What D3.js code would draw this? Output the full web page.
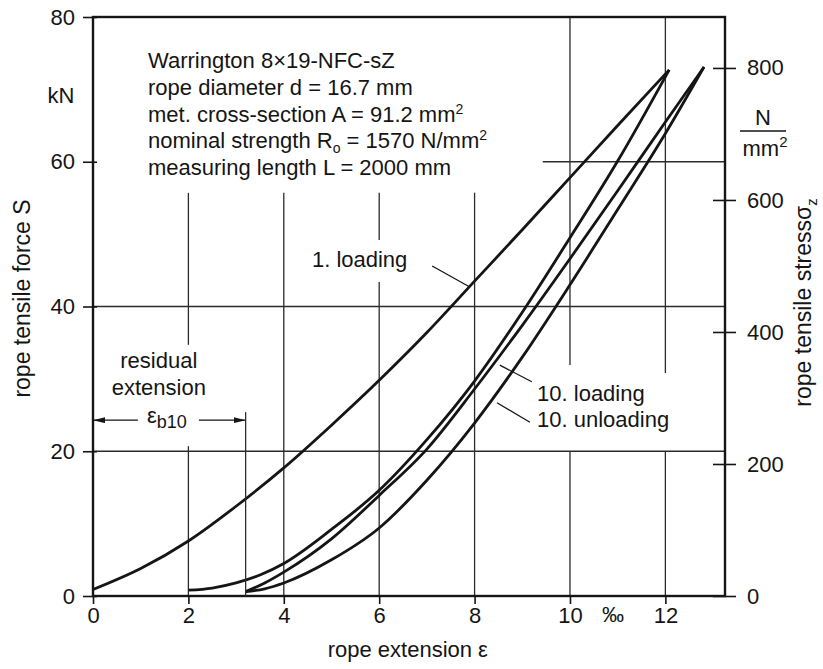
<!DOCTYPE html>
<html>
<head>
<meta charset="utf-8">
<script src="https://cdn.jsdelivr.net/npm/d3@7/dist/d3.min.js"></script>
<style>
  body { margin: 0; background: #fff; }
  svg { font-family: "Liberation Sans", Arial, Helvetica, sans-serif; }
  text { font-size: 22px; fill: #151515; }
  .title { font-size: 23px; }
  .grid { stroke: #2b2b2b; stroke-width: 1.3; fill: none; }
  .frame { stroke: #151515; stroke-width: 2.4; fill: none; }
  .curve { stroke: #151515; stroke-width: 2.8; fill: none; }
  .leader { stroke: #151515; stroke-width: 1.3; }
  .tick line { stroke: #151515; stroke-width: 1.6; }
</style>
</head>
<body>
<script>
// values: rope extension eps (per mille) -> tensile force S (kN)
var load1Eps   = [0, 1, 2, 3, 4, 5, 6, 7, 8, 9, 10, 11, 12.08],
    load1S     = [0.9, 3.8, 7.6, 12.4, 17.7, 23.6, 29.8, 36.4, 43.5, 50.6, 57.8, 65.0, 72.7];
var unload1Eps = [2, 2.5, 3, 3.5, 4, 5, 6, 7, 8, 9, 10, 11, 12.08],
    unload1S   = [0.8, 1.1, 1.8, 2.9, 4.5, 9.2, 14.6, 21.6, 29.7, 39.2, 49.5, 60.1, 72.7];
var load10Eps  = [3.2, 3.6, 4, 5, 6, 7, 8, 9, 10, 11, 12, 12.81],
    load10S    = [0.6, 1.8, 3.3, 7.9, 13.9, 20.3, 28.6, 37.4, 46.6, 56.0, 65.5, 73.1];
var unload10Eps = [3.2, 3.6, 4, 5, 6, 7, 8, 9, 10, 11, 12, 12.81],
    unload10S   = [0.6, 1.0, 1.8, 5.0, 9.4, 16.0, 23.9, 33.0, 43.0, 53.4, 63.9, 73.1];

var xTicks = [0, 2, 4, 6, 8, 10, 12],
    yTicks = [0, 20, 40, 60, 80],
    stressTicks = [0, 200, 400, 600, 800];

var residualEps = 3.2,      // eps_b10
    area = 91.2;            // mm^2, force kN -> stress N/mm^2

var infoLines = [
  [{t: "Warrington 8\u00D719-NFC-sZ"}],
  [{t: "rope diameter d = 16.7 mm"}],
  [{t: "met. cross-section A = 91.2 mm"}, {t: "2", sup: true}],
  [{t: "nominal strength R"}, {t: "o", sub: true}, {t: " = 1570 N/mm"}, {t: "2", sup: true}],
  [{t: "measuring length L = 2000 mm"}]
];

var width = 823, height = 669;
var xMax = 13.25;

var svg = d3.select("body").append("svg")
    .attr("width", width)
    .attr("height", height);

var x = d3.scaleLinear().domain([0, xMax]).range([93, 725]),
    y = d3.scaleLinear().domain([0, 80]).range([596, 17]),
    yStress = d3.scaleLinear().domain([0, 800]).range([y(0), y(800 * area / 1000)]);

// grid, broken where the labels sit
var vGrid = [
  {e: 2,  spans: [[0, 20.7], [34.7, 55.7]]},
  {e: 4,  spans: [[0, 55.7]]},
  {e: 6,  spans: [[0, 43.4], [49.2, 55.7]]},
  {e: 8,  spans: [[0, 55.7]]},
  {e: 10, spans: [[0, 20], [31.9, 80]]},
  {e: 12, spans: [[0, 20], [30.8, 80]]}
];
var hGrid = [
  {s: 20, spans: [[0, xMax]]},
  {s: 40, spans: [[0, xMax]]},
  {s: 60, spans: [[9.43, xMax]]}
];

var grid = svg.append("g").attr("class", "grid");
vGrid.forEach(function(g) {
  g.spans.forEach(function(sp) {
    grid.append("line")
        .attr("x1", x(g.e)).attr("x2", x(g.e))
        .attr("y1", y(sp[0])).attr("y2", y(sp[1]));
  });
});
hGrid.forEach(function(g) {
  g.spans.forEach(function(sp) {
    grid.append("line")
        .attr("x1", x(sp[0])).attr("x2", x(sp[1]))
        .attr("y1", y(g.s)).attr("y2", y(g.s));
  });
});

// frame
svg.append("rect")
    .attr("class", "frame")
    .attr("x", x(0)).attr("y", y(80))
    .attr("width", x(xMax) - x(0))
    .attr("height", y(0) - y(80));

// axes
var gLeft = svg.append("g")
    .attr("transform", `translate(${x(0)},0)`)
    .call(d3.axisLeft(y).tickValues(yTicks).tickSize(10).tickPadding(8))
    .call(g => g.select(".domain").remove());
gLeft.selectAll(".tick line").attr("x1", 4);

var gRight = svg.append("g")
    .attr("transform", `translate(${x(xMax)},0)`)
    .call(d3.axisRight(yStress).tickValues(stressTicks).tickSize(11).tickPadding(11))
    .call(g => g.select(".domain").remove());
gRight.selectAll(".tick line").attr("x1", -12);

var gBottom = svg.append("g")
    .attr("transform", `translate(0,${y(0)})`)
    .call(d3.axisBottom(x).tickValues(xTicks).tickSize(8).tickPadding(3))
    .call(g => g.select(".domain").remove());

svg.selectAll(".tick text").attr("font-size", null);

svg.append("text")
    .attr("x", x(10.9)).attr("y", y(0) + 26)
    .attr("text-anchor", "middle")
    .text("\u2030");

// curves
var line = d3.line()
    .x(d => x(d[0]))
    .y(d => y(d[1]))
    .curve(d3.curveMonotoneX);

[[load1Eps, load1S], [unload1Eps, unload1S], [load10Eps, load10S], [unload10Eps, unload10S]]
  .forEach(function(c) {
    svg.append("path")
        .attr("class", "curve")
        .attr("d", line(d3.zip(c[0], c[1])));
  });

// curve labels with leader lines
var labels = [
  {text: "1. loading",    tx: 4.59, ts: 45.4, from: [7.11, 45.6], to: [7.90, 42.7]},
  {text: "10. loading",   tx: 9.31, ts: 26.9, from: [9.20, 29.6], to: [8.53, 31.9]},
  {text: "10. unloading", tx: 9.31, ts: 23.4, from: [9.16, 24.0], to: [8.47, 26.7]}
];
labels.forEach(function(l) {
  svg.append("line")
      .attr("class", "leader")
      .attr("x1", x(l.from[0])).attr("y1", y(l.from[1]))
      .attr("x2", x(l.to[0])).attr("y2", y(l.to[1]));
  svg.append("text")
      .attr("x", x(l.tx)).attr("y", y(l.ts))
      .text(l.text);
});

// residual extension arrow
svg.append("defs").append("marker")
    .attr("id", "arrow")
    .attr("viewBox", "0 0 12 6")
    .attr("refX", 12).attr("refY", 3)
    .attr("markerWidth", 12).attr("markerHeight", 6)
    .attr("markerUnits", "userSpaceOnUse")
    .attr("orient", "auto")
  .append("path")
    .attr("d", "M0,0L12,3L0,6Z")
    .attr("fill", "#151515");

var arrowS = 24.3;
svg.append("line")
    .attr("class", "leader")
    .attr("x1", x(0.94)).attr("x2", x(0))
    .attr("y1", y(arrowS)).attr("y2", y(arrowS))
    .attr("marker-end", "url(#arrow)");
svg.append("line")
    .attr("class", "leader")
    .attr("x1", x(2.22)).attr("x2", x(residualEps))
    .attr("y1", y(arrowS)).attr("y2", y(arrowS))
    .attr("marker-end", "url(#arrow)");
svg.append("line")
    .attr("class", "grid")
    .attr("x1", x(residualEps)).attr("x2", x(residualEps))
    .attr("y1", y(25.4)).attr("y2", y(0));

svg.append("text").attr("x", x(1.38)).attr("y", y(31.5))
    .attr("text-anchor", "middle").text("residual");
svg.append("text").attr("x", x(1.38)).attr("y", y(27.8))
    .attr("text-anchor", "middle").text("extension");
var eb = svg.append("text").attr("x", x(1.13)).attr("y", y(arrowS) + 3);
eb.append("tspan").text("\u03B5");
eb.append("tspan").attr("dy", 5).style("font-size", "18px").text("b10");

// info block
var info = svg.append("g");
infoLines.forEach(function(parts, i) {
  var t = info.append("text")
      .attr("x", 148)
      .attr("y", 68 + i * 26.8);
  parts.forEach(function(p, k) {
    var ts = t.append("tspan").text(p.t);
    if (p.sup) ts.attr("dy", -8).style("font-size", "14px");
    else if (p.sub) ts.attr("dy", 5).style("font-size", "14px");
    else if (k > 0 && parts[k - 1].sub) ts.attr("dy", -5);
  });
});

// units
svg.append("text").attr("x", 61).attr("y", 103)
    .attr("text-anchor", "middle").text("kN");
svg.append("text").attr("x", 763).attr("y", 125)
    .attr("text-anchor", "middle").text("N");
svg.append("line").attr("class", "leader")
    .attr("x1", 740).attr("x2", 786).attr("y1", 131).attr("y2", 131);
var mm = svg.append("text").attr("x", 765).attr("y", 156)
    .attr("text-anchor", "middle");
mm.append("tspan").text("mm");
mm.append("tspan").attr("dy", -9).style("font-size", "15px").text("2");

// axis titles
svg.append("text")
    .attr("class", "title")
    .attr("transform", `translate(30,${y(40) - 8}) rotate(-90)`)
    .attr("text-anchor", "middle")
    .text("rope tensile force S");

var rt = svg.append("text")
    .attr("class", "title")
    .attr("transform", `translate(811,${y(40) - 4}) rotate(-90)`)
    .attr("text-anchor", "middle");
rt.append("tspan").text("rope tensile stress\u03C3");
rt.append("tspan").attr("dy", 6).style("font-size", "15px").text("z");

svg.append("text")
    .attr("x", x(6.6)).attr("y", 657)
    .attr("text-anchor", "middle")
    .text("rope extension \u03B5");
</script>
</body>
</html>
